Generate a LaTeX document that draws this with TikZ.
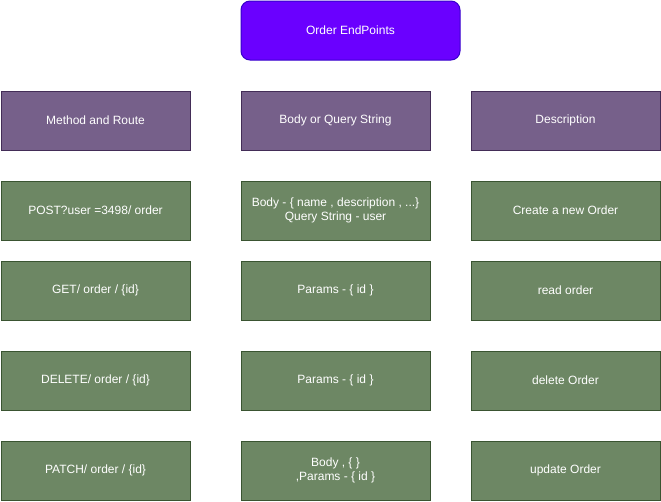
\documentclass[tikz,border=0pt]{standalone}
\usepackage{fontspec}
\setmainfont{Liberation Sans}
\definecolor{topfill}{HTML}{6A00FF}
\definecolor{topline}{HTML}{3700CC}
\definecolor{hdrfill}{HTML}{76608A}
\definecolor{hdrline}{HTML}{432D57}
\definecolor{grnfill}{HTML}{6D8764}
\definecolor{grnline}{HTML}{3A5431}
\begin{document}
\begin{tikzpicture}[x=1pt,y=-1pt,
  box/.style={draw, line width=1pt, text=white, font=\fontsize{12}{14}\selectfont, align=center, inner sep=0pt, minimum height=59pt, anchor=north west},
  topbox/.style={box, fill=topfill, draw=topline, rounded corners=9pt, minimum width=219pt},
  hdr/.style={box, fill=hdrfill, draw=hdrline, minimum width=189pt},
  row/.style={box, fill=grnfill, draw=grnline, minimum width=189pt}]
\useasboundingbox (0,0) rectangle (661,501);
\node[topbox] (top) at (240.5,0.5) {Order EndPoints};
\node[hdr] (h1) at (0.5,90.5) {Method and Route};
\node[hdr] (h2) at (240.5,90.5) {Body or Query String};
\node[hdr] (h3) at (470.5,90.5) {Description};
\node[row] (a1) at (0.5,180.5) {POST?user =3498/ order};
\node[row] (a2) at (240.5,180.5) {Body - \{ name , description , ...\}\\Query String - user};
\node[row] (a3) at (470.5,180.5) {Create a new Order};
\node[row] (b1) at (0.5,260.5) {GET/ order / \{id\}};
\node[row] (b2) at (240.5,260.5) {Params - \{ id \}};
\node[row] (b3) at (470.5,260.5) {read order};
\node[row] (c1) at (0.5,350.5) {DELETE/ order / \{id\}};
\node[row] (c2) at (240.5,350.5) {Params - \{ id \}};
\node[row] (c3) at (470.5,350.5) {delete Order};
\node[row] (d1) at (0.5,440.5) {PATCH/ order / \{id\}};
\node[row] (d2) at (240.5,440.5) {Body , \{ \}\\,Params - \{ id \}};
\node[row] (d3) at (470.5,440.5) {update Order};
\end{tikzpicture}
\end{document}
